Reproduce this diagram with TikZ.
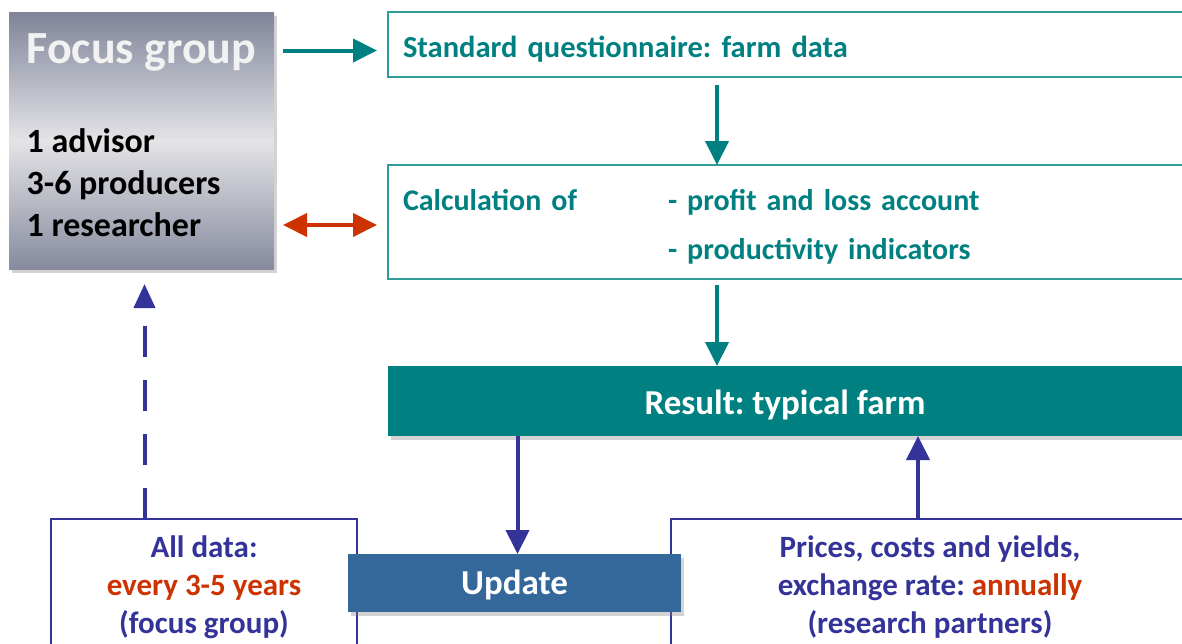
\documentclass[tikz,border=0pt]{standalone}
\usepackage{fontspec}
\setmainfont{Carlito}
\usepackage{tikz}
\usetikzlibrary{arrows.meta,shadows,calc}
\definecolor{tealdark}{HTML}{008080}
\definecolor{tealline}{HTML}{2E9C95}
\definecolor{bluedark}{HTML}{333399}
\definecolor{redtext}{HTML}{CC3300}
\definecolor{updblue}{HTML}{34689A}
\definecolor{fgtop}{HTML}{7F8499}
\definecolor{fgmid}{HTML}{E4E4E7}
\definecolor{fgbot}{HTML}{868A9D}
\frenchspacing

\begin{document}
\begin{tikzpicture}[x=1pt,y=-1pt]
    \useasboundingbox (0,0) rectangle (1182,643);
    \clip (0,0) rectangle (1182,643);
        \tikzset{
            BoxStyle/.style = {
                shape = rectangle,
                inner sep = 0pt,
                outer sep = 0pt,
                anchor = north west,
                font = \bfseries\fontsize{30.5}{36}\selectfont},
            TealBox/.style = {
                BoxStyle,
                draw = tealline,
                line width = 1.2pt,
                fill = white,
                text = tealdark},
            BlueBox/.style = {
                BoxStyle,
                draw = bluedark,
                line width = 1.2pt,
                fill = white,
                text = bluedark,
                align = center,
                font = \bfseries\fontsize{31}{38}\selectfont},
            FillBox/.style = {
                BoxStyle,
                text = white,
                drop shadow = {shadow xshift = 3pt, shadow yshift = -4pt, opacity = .35},
                font = \bfseries\fontsize{35}{40}\selectfont}
                }
        \tikzset{
            ArrowStyle/.style = {
                line width = 4pt,
                -{Triangle[length = 24pt, width = 23pt]}}
                }
    \node[BoxStyle, top color = fgtop, bottom color = fgbot, middle color = fgmid,
        drop shadow = {shadow xshift = 3pt, shadow yshift = -4pt, opacity = .35},
        minimum width = 265, minimum height = 257, align = left,
        font = \bfseries\fontsize{34}{42}\selectfont] (focus) at (9,12)
        {{\fontsize{46}{46}\selectfont\color{white!95!black}Focus group}\\[47pt]
         1 advisor\\ 3-6 producers\\ 1 researcher\rule[-10pt]{0pt}{0pt}};
    \node[TealBox, minimum width = 810, minimum height = 65, text width = 780,
        align = left, text height = 25pt, text depth = 0pt] (std) at (388,12)
        {Standard questionnaire: farm data};
    \node[TealBox, minimum width = 810, minimum height = 114, text width = 780,
        align = left, text height = 0pt, text depth = 24pt,
        font = \bfseries\fontsize{30}{36}\selectfont] (calc) at (388,165)
        {\begin{tabular}[t]{@{}p{265pt}@{}l@{}}
          Calculation of & - profit and loss account\\[13pt]
                         & - productivity indicators
         \end{tabular}};
    \node[FillBox, fill = tealdark, minimum width = 794, minimum height = 70,
        text height = 26pt, text depth = 0pt] (result)
        at (388,366) {Result: typical farm};
    \node[BlueBox, minimum width = 306, minimum height = 136] (alldata) at (51,519)
        {All data:\\ \textcolor{redtext}{every 3-5 years}\\ (focus group)};
    \node[BlueBox, minimum width = 518, minimum height = 136] (prices) at (671,519)
        {Prices, costs and yields,\\ exchange rate: \textcolor{redtext}{annually}\\
         (research partners)};
    \node[FillBox, fill = updblue, minimum width = 333, minimum height = 58,
        text height = 22pt, text depth = 0pt] (update)
        at (348,554) {Update};
    \draw[ArrowStyle, tealdark, shorten > = 11pt]
        ($(focus.east |- std.west)+(9,6)$) -- ($(std.west)+(0,6)$);
    \draw[ArrowStyle, redtext, shorten > = 11pt, shorten < = 9pt,
        {Triangle[length = 24pt, width = 23pt]}-{Triangle[length = 24pt, width = 23pt]}]
        ($(focus.east |- calc.west)+(0,3)$) -- ($(calc.west)+(0,3)$);
    \draw[ArrowStyle, tealdark] ($(std.south west)+(329,8)$) -- ($(calc.north west)+(329,0)$);
    \draw[ArrowStyle, tealdark] ($(calc.south west)+(329,6)$) -- ($(result.north west)+(329,0)$);
    \draw[ArrowStyle, bluedark] ($(result.south -| update.north)+(3,0)$) -- ($(update.north)+(3,0)$);
    \draw[ArrowStyle, bluedark] ($(prices.north)+(-12,0)$) -- ($(prices.north |- result.south)+(-12,0)$);
    \draw[ArrowStyle, bluedark, dash pattern = on 31pt off 23pt, shorten > = 15pt,
        -{Triangle[length = 24pt, width = 21pt]}]
        ($(alldata.north -| focus.south)+(3,0)$) -- ($(focus.south)+(3,0)$);
\end{tikzpicture}
\end{document}
